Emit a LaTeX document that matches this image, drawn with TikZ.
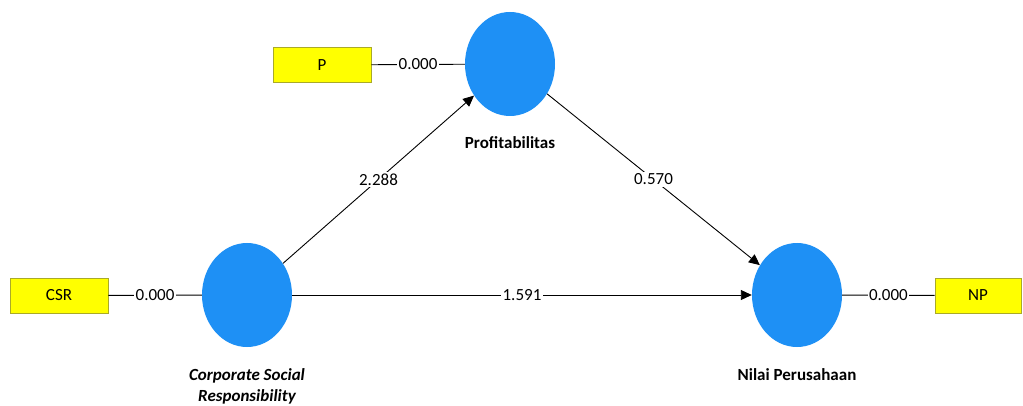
\documentclass[tikz,border=0pt]{standalone}
\usepackage{fontspec}
\setmainfont{Carlito}
\setsansfont{Carlito}
\usepackage{tikz}
\usetikzlibrary{shapes.geometric,arrows.meta}
\definecolor{latentblue}{RGB}{30,144,245}
\definecolor{itemyellow}{RGB}{255,255,0}
\definecolor{itemedge}{RGB}{170,170,40}
\tikzset{
  latent/.style={ellipse, fill=latentblue, draw=none, minimum width=90pt, minimum height=104pt, inner sep=0pt},
  indicator/.style={rectangle, fill=itemyellow, draw=itemedge, line width=0.8pt, minimum height=35pt, inner sep=0pt, font=\fontsize{17}{20}\selectfont},
  coef/.style={fill=white, inner sep=1.5pt, font=\fontsize{17}{20}\selectfont},
  path/.style={line width=0.9pt, -{Triangle[length=11pt,width=10pt]}},
  load/.style={line width=0.9pt},
  lvname/.style={font=\fontsize{17}{21}\selectfont\bfseries, align=center}
}

\begin{document}
\begin{tikzpicture}[x=1pt, y=-1pt, font=\sffamily]
  \useasboundingbox[fill=white] (0,0) rectangle (1023,406);
  % latent variables
  \node[latent] (csr) at (247,295) {};
  \node[latent] (prof) at (510,64) {};
  \node[latent] (nilai) at (797,295) {};
  \node[lvname] at (510,143) {Profitabilitas};
  \node[lvname, font=\fontsize{17}{21}\selectfont\bfseries\itshape] at (247,386) {Corporate Social\\Responsibility};
  \node[lvname] at (797,375) {Nilai Perusahaan};
  % indicators
  \node[indicator, minimum width=98pt] (csri) at (59,295.5) {CSR};
  \node[indicator, minimum width=98pt] (pi) at (322,65) {P};
  \node[indicator, minimum width=86pt] (npi) at (978,295.5) {NP};
  % outer loadings
  \draw[load] (csri) -- node[coef] {0.000} (csr);
  \draw[load] (pi) -- node[coef] {0.000} (prof);
  \draw[load] (nilai) -- node[coef] {0.000} (npi);
  % structural paths
  \draw[path] (csr) -- node[coef] {2.288} (prof);
  \draw[path] (prof) -- node[coef] {0.570} (nilai);
  \draw[path] (csr) -- node[coef] {1.591} (nilai);
\end{tikzpicture}
\end{document}
